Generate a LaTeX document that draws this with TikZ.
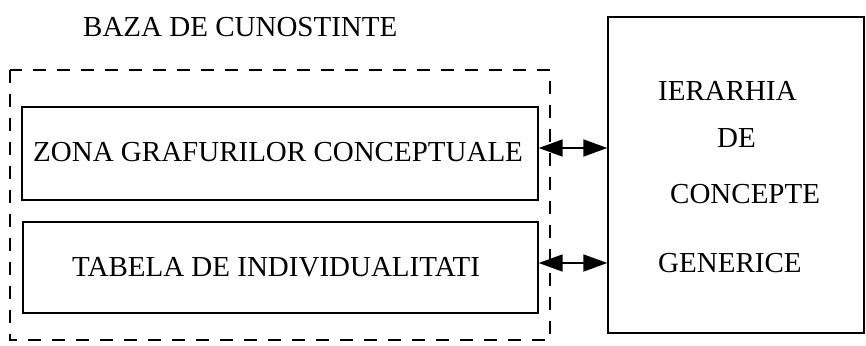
\documentclass[tikz,border=0pt]{standalone}
\usepackage{fontspec}
\setmainfont{Liberation Serif}
\usetikzlibrary{arrows.meta}
\begin{document}
\begin{tikzpicture}[x=1pt,y=-1pt,
  every node/.style={font=\fontsize{29}{34}\selectfont},
  panel/.style={draw,line width=1.4pt,rectangle,inner sep=0pt},
  label/.style={inner sep=0pt,anchor=base west},
  linkarrow/.style={line width=1.8pt,{Triangle[length=24pt,width=17pt]}-{Triangle[length=24pt,width=17pt]}}]
  \useasboundingbox (0,0) rectangle (866,345);
  % knowledge base outline
  \draw[line width=1.2pt,dash pattern=on 13pt off 11pt] (10,70) rectangle (550,340);
  \node[label] (title) at (83,37) {BAZA DE CUNOSTINTE};
  % inner stores
  \node[panel,minimum width=516pt,minimum height=93pt] (zona) at (280,153.5) {};
  \node[label] (zonatxt) at (33,161) {ZONA GRAFURILOR CONCEPTUALE};
  \node[panel,minimum width=515pt,minimum height=91pt] (tabela) at (280.5,267.5) {};
  \node[label] (tabelatxt) at (72,276) {TABELA DE INDIVIDUALITATI};
  % concept hierarchy
  \node[panel,minimum width=256pt,minimum height=316pt] (ier) at (736,175) {};
  \node[label] (t1) at (658,100) {IERARHIA};
  \node[label] (t2) at (717,147) {DE};
  \node[label] (t3) at (670,203) {CONCEPTE};
  \node[label] (t4) at (658,272) {GENERICE};
  % links
  \draw[linkarrow] ([yshift=5.5pt]zona.east) -- ([yshift=5.5pt]zona.east -| ier.west);
  \draw[linkarrow] ([yshift=4.5pt]tabela.east) -- ([yshift=4.5pt]tabela.east -| ier.west);
\end{tikzpicture}
\end{document}
